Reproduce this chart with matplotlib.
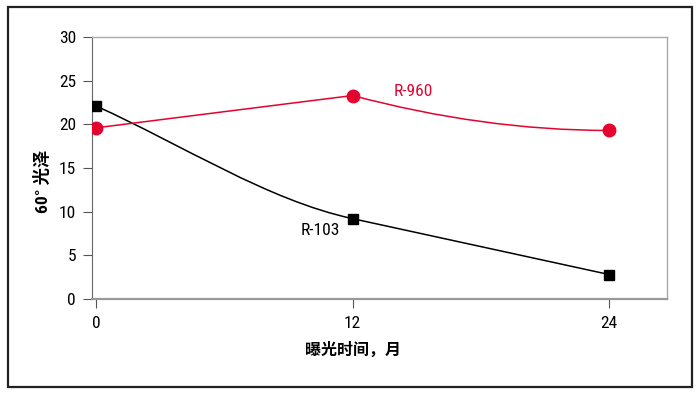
import numpy as np
import matplotlib.pyplot as plt
from matplotlib import font_manager
from matplotlib.path import Path
from matplotlib.patches import PathPatch, Rectangle

# data
months = [0, 12, 24]
r960 = [19.6, 23.3, 19.3]
r103 = [22.1, 9.2, 2.8]
yticks = [0, 5, 10, 15, 20, 25, 30]

# slopes (value per month) at start / end of each drawn segment, to mimic the hand-smoothed curves
r960_slopes = [(None, None), (-0.65, 0.0)]
r103_slopes = [(-1.1, -0.53), (None, None)]

installed = {f.name for f in font_manager.fontManager.ttflist}
narrow = [f for f in ['Roboto Condensed', 'Liberation Sans Narrow', 'Open Sans Condensed', 'Roboto']
          if f in installed]
plt.rcParams['font.family'] = narrow[:1] + ['Noto Sans CJK SC', 'DejaVu Sans']

RED = '#e4032e'


def curve_path(xs, ys, slopes):
    """chain of cubic beziers; None slope means follow the chord"""
    verts = [(xs[0], ys[0])]
    codes = [Path.MOVETO]
    for i in range(len(xs) - 1):
        x0, y0, x1, y1 = xs[i], ys[i], xs[i + 1], ys[i + 1]
        chord = (y1 - y0) / (x1 - x0)
        s0, s1 = slopes[i]
        s0 = chord if s0 is None else s0
        s1 = chord if s1 is None else s1
        h = (x1 - x0) / 3
        verts += [(x0 + h, y0 + s0 * h), (x1 - h, y1 - s1 * h), (x1, y1)]
        codes += [Path.CURVE4] * 3
    return Path(verts, codes)


fig = plt.figure(figsize=(7, 3.94), dpi=100)
fig.patches.append(Rectangle((0.0114, 0.0178), 0.977, 0.9645, transform=fig.transFigure,
                             fill=False, edgecolor='#222222', linewidth=1.6))

ax = fig.add_axes([0.1314, 0.2411, 0.8214, 0.665])

ax.add_patch(PathPatch(curve_path(months, r103, r103_slopes), fill=False,
                       edgecolor='black', linewidth=1.1))
ax.add_patch(PathPatch(curve_path(months, r960, r960_slopes), fill=False,
                       edgecolor=RED, linewidth=1.1))
ax.plot(months, r103, linestyle='none', marker='s', markersize=7, color='black', zorder=3)
ax.plot(months, r960, linestyle='none', marker='o', markersize=9, color=RED, zorder=3)

ax.text(13.9, 23.8, 'R-960', color=RED, fontsize=12.5, ha='left', va='center')
ax.text(11.4, 7.8, 'R-103', color='black', fontsize=12.5, ha='right', va='center')

ax.set_xlim(-0.19, 26.7)
ax.set_ylim(0, 30)
ax.set_xticks(months)
ax.set_yticks(yticks)
ax.tick_params(axis='both', labelsize=12.5, colors='#555555', labelcolor='black',
               length=6.5, width=0.8)
ax.tick_params(axis='y', pad=5)
ax.tick_params(axis='x', pad=6)

for side in ['top', 'right']:
    ax.spines[side].set_color('#aaaaaa')
    ax.spines[side].set_linewidth(1.0)
ax.spines['left'].set_color('#666666')
ax.spines['left'].set_linewidth(0.8)
ax.spines['bottom'].set_color('#999999')
ax.spines['bottom'].set_linewidth(1.6)

ax.set_ylabel('60° 光泽', fontsize=12.5, fontweight='bold', va='center')
ax.yaxis.set_label_coords(-0.087, 0.45)
ax.set_xlabel('曝光时间，月', fontsize=11.5, fontweight='bold', va='center')
ax.xaxis.set_label_coords(0.454, -0.195)

fig.savefig('out.png', dpi=100)
